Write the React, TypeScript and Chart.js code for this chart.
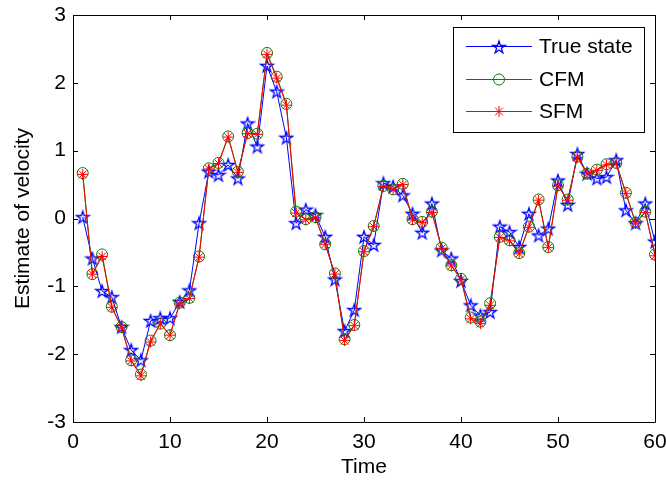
import React, { useEffect, useRef } from 'react';
import { Chart, registerables } from 'chart.js';

Chart.register(...registerables);

const timeSteps = [
  1, 2, 3, 4, 5, 6, 7, 8, 9, 10, 11, 12, 13, 14, 15, 16, 17, 18, 19, 20,
  21, 22, 23, 24, 25, 26, 27, 28, 29, 30, 31, 32, 33, 34, 35, 36, 37, 38, 39, 40,
  41, 42, 43, 44, 45, 46, 47, 48, 49, 50, 51, 52, 53, 54, 55, 56, 57, 58, 59, 60,
];

const trueState = [
  0.02, -0.59, -1.07, -1.16, -1.6, -1.94, -2.09, -1.51, -1.47, -1.47,
  -1.23, -1.06, -0.07, 0.69, 0.64, 0.79, 0.59, 1.4, 1.06, 2.25,
  1.87, 1.19, -0.07, 0.13, 0.05, -0.27, -0.9, -1.66, -1.35, -0.27,
  -0.39, 0.52, 0.47, 0.34, 0.07, -0.21, 0.22, -0.47, -0.59, -0.92,
  -1.28, -1.43, -1.38, -0.12, -0.2, -0.42, 0.07, -0.25, -0.15, 0.56,
  0.2, 0.95, 0.66, 0.59, 0.61, 0.86, 0.12, -0.07, 0.22, -0.34,
];

const cfm = [
  0.67, -0.82, -0.53, -1.3, -1.6, -2.09, -2.3, -1.8, -1.55, -1.72,
  -1.24, -1.17, -0.56, 0.74, 0.82, 1.21, 0.69, 1.26, 1.25, 2.44,
  2.09, 1.69, 0.1, -0.01, 0.02, -0.38, -0.81, -1.78, -1.57, -0.48,
  -0.11, 0.48, 0.43, 0.51, -0.01, -0.05, 0.1, -0.43, -0.69, -0.89,
  -1.46, -1.52, -1.25, -0.27, -0.32, -0.51, -0.12, 0.28, -0.42, 0.49,
  0.28, 0.91, 0.66, 0.72, 0.8, 0.82, 0.38, -0.06, 0.1, -0.53,
];

const sfm = [
  0.65, -0.82, -0.56, -1.31, -1.61, -2.1, -2.32, -1.82, -1.55, -1.72,
  -1.26, -1.18, -0.57, 0.73, 0.81, 1.2, 0.68, 1.25, 1.24, 2.42,
  2.07, 1.67, 0.08, -0.02, 0.01, -0.38, -0.82, -1.8, -1.58, -0.49,
  -0.12, 0.47, 0.43, 0.5, -0.02, -0.06, 0.09, -0.44, -0.7, -0.9,
  -1.48, -1.55, -1.28, -0.28, -0.33, -0.52, -0.13, 0.27, -0.43, 0.48,
  0.27, 0.9, 0.66, 0.71, 0.79, 0.81, 0.37, -0.07, 0.09, -0.55,
];

const seriesNames = ['True state', 'CFM', 'SFM'];
const seriesColors = ['#0000ff', '#008000', '#ff0000'];
const xTickValues = [0, 10, 20, 30, 40, 50, 60];
const yTickValues = [-3, -2, -1, 0, 1, 2, 3];

const FONT_FAMILY = "'Liberation Sans', Arial, Helvetica, sans-serif";
const FONT_SIZE = 21;

function makePentagram(color: string, r: number): HTMLCanvasElement {
  const size = Math.ceil(r * 2 + 3);
  const c = document.createElement('canvas');
  c.width = size;
  c.height = size;
  const ctx = c.getContext('2d')!;
  const cx = size / 2;
  const cy = size / 2 + 0.5;
  const inner = r * 0.382;
  ctx.beginPath();
  for (let i = 0; i < 10; i++) {
    const rad = i % 2 === 0 ? r : inner;
    const a = -Math.PI / 2 + (i * Math.PI) / 5;
    const x = cx + rad * Math.cos(a);
    const y = cy + rad * Math.sin(a);
    if (i === 0) ctx.moveTo(x, y);
    else ctx.lineTo(x, y);
  }
  ctx.closePath();
  ctx.strokeStyle = color;
  ctx.lineWidth = 1.3;
  ctx.stroke();
  return c;
}

function drawAsterisk(ctx: CanvasRenderingContext2D, x: number, y: number, r: number) {
  ctx.beginPath();
  ctx.moveTo(x - r, y);
  ctx.lineTo(x + r, y);
  ctx.moveTo(x, y - r);
  ctx.lineTo(x, y + r);
  const d = r * Math.SQRT1_2;
  ctx.moveTo(x - d, y - d);
  ctx.lineTo(x + d, y + d);
  ctx.moveTo(x - d, y + d);
  ctx.lineTo(x + d, y - d);
  ctx.stroke();
}

export default function App() {
  const canvasRef = useRef<HTMLCanvasElement | null>(null);

  useEffect(() => {
    if (!canvasRef.current) return;
    const star = makePentagram(seriesColors[0], 6.5);

    const frameAndTicks = {
      id: 'frameAndTicks',
      afterDraw(chart: any) {
        const { ctx, chartArea } = chart;
        const { left, right, top, bottom } = chartArea;
        const xs = chart.scales.x;
        const ys = chart.scales.y;
        ctx.save();
        ctx.strokeStyle = '#000';
        ctx.lineWidth = 1;
        const L = 5;
        ctx.beginPath();
        xTickValues.forEach((v) => {
          const px = Math.round(xs.getPixelForValue(v)) + 0.5;
          ctx.moveTo(px, bottom);
          ctx.lineTo(px, bottom - L);
          ctx.moveTo(px, top);
          ctx.lineTo(px, top + L);
        });
        yTickValues.forEach((v) => {
          const py = Math.round(ys.getPixelForValue(v)) + 0.5;
          ctx.moveTo(left, py);
          ctx.lineTo(left + L, py);
          ctx.moveTo(right, py);
          ctx.lineTo(right - L, py);
        });
        ctx.stroke();
        ctx.beginPath();
        ctx.rect(Math.round(left) + 0.5, Math.round(top) + 0.5, Math.round(right - left), Math.round(bottom - top));
        ctx.stroke();

        // legend
        const bx = 453.5, by = 27.5, bw = 191, bh = 105;
        ctx.fillStyle = '#fff';
        ctx.fillRect(bx, by, bw, bh);
        ctx.strokeStyle = '#000';
        ctx.strokeRect(bx, by, bw, bh);
        const rows = [46.5, 79.5, 111.5];
        const lx0 = 466, lx1 = 532, mx = 499;
        ctx.font = `${FONT_SIZE}px ${FONT_FAMILY}`;
        ctx.textBaseline = 'middle';
        ctx.textAlign = 'left';
        rows.forEach((ry, i) => {
          ctx.strokeStyle = seriesColors[i];
          ctx.lineWidth = 1;
          ctx.beginPath();
          ctx.moveTo(lx0, ry);
          ctx.lineTo(lx1, ry);
          ctx.stroke();
          if (i === 0) {
            ctx.drawImage(star, Math.round(mx - star.width / 2), Math.round(ry - star.height / 2));
          } else if (i === 1) {
            ctx.beginPath();
            ctx.arc(mx, ry, 5.5, 0, Math.PI * 2);
            ctx.stroke();
          } else {
            drawAsterisk(ctx, mx, ry, 5.5);
          }
          ctx.fillStyle = '#000';
          ctx.fillText(seriesNames[i], 539, ry + 1);
        });
        ctx.restore();
      },
    };

    const chart = new Chart(canvasRef.current, {
      type: 'line',
      data: {
        datasets: [
          {
            label: seriesNames[0],
            data: timeSteps.map((t, i) => ({ x: t, y: trueState[i] })),
            borderColor: seriesColors[0],
            backgroundColor: 'transparent',
            borderWidth: 1,
            pointStyle: star as any,
            pointRadius: 6,
            order: 3,
          },
          {
            label: seriesNames[1],
            data: timeSteps.map((t, i) => ({ x: t, y: cfm[i] })),
            borderColor: seriesColors[1],
            backgroundColor: 'transparent',
            pointBackgroundColor: 'transparent',
            pointBorderColor: seriesColors[1],
            borderWidth: 1,
            pointBorderWidth: 1,
            pointStyle: 'circle',
            pointRadius: 5.5,
            order: 2,
          },
          {
            label: seriesNames[2],
            data: timeSteps.map((t, i) => ({ x: t, y: sfm[i] })),
            borderColor: seriesColors[2],
            backgroundColor: 'transparent',
            pointBorderColor: seriesColors[2],
            borderWidth: 1,
            pointBorderWidth: 1,
            pointStyle: 'star',
            pointRadius: 5.5,
            order: 1,
          },
        ],
      },
      options: {
        animation: false,
        responsive: true,
        maintainAspectRatio: false,
        layout: { padding: { top: 15, right: 11, left: 0, bottom: 0 } },
        plugins: { legend: { display: false }, tooltip: { enabled: false } },
        scales: {
          x: {
            type: 'linear',
            min: 0,
            max: 60,
            afterFit: (s: any) => { s.height = 62; s.paddingLeft = 0; s.paddingRight = 0; },
            afterBuildTicks: (s: any) => { s.ticks = xTickValues.map((v) => ({ value: v })); },
            grid: { display: false, drawTicks: false },
            border: { display: false },
            ticks: {
              color: '#000',
              padding: 8,
              maxRotation: 0,
              font: { family: FONT_FAMILY, size: FONT_SIZE },
            },
            title: {
              display: true,
              text: 'Time',
              color: '#000',
              font: { family: FONT_FAMILY, size: FONT_SIZE },
              padding: { top: 0, bottom: 4 },
            },
          },
          y: {
            type: 'linear',
            min: -3,
            max: 3,
            afterFit: (s: any) => { s.width = 73; s.paddingTop = 0; s.paddingBottom = 0; },
            afterBuildTicks: (s: any) => { s.ticks = yTickValues.map((v) => ({ value: v })); },
            grid: { display: false, drawTicks: false },
            border: { display: false },
            ticks: {
              color: '#000',
              padding: 7,
              font: { family: FONT_FAMILY, size: FONT_SIZE },
            },
            title: {
              display: true,
              text: 'Estimate of velocity',
              color: '#000',
              font: { family: FONT_FAMILY, size: FONT_SIZE },
              padding: { top: 11, bottom: 0 },
            },
          },
        },
      },
      plugins: [frameAndTicks],
    });
    return () => chart.destroy();
  }, []);

  return (
    <div style={{ position: 'absolute', left: 0, top: 0, width: 666, height: 484, background: '#fff' }}>
      <canvas ref={canvasRef} />
    </div>
  );
}
